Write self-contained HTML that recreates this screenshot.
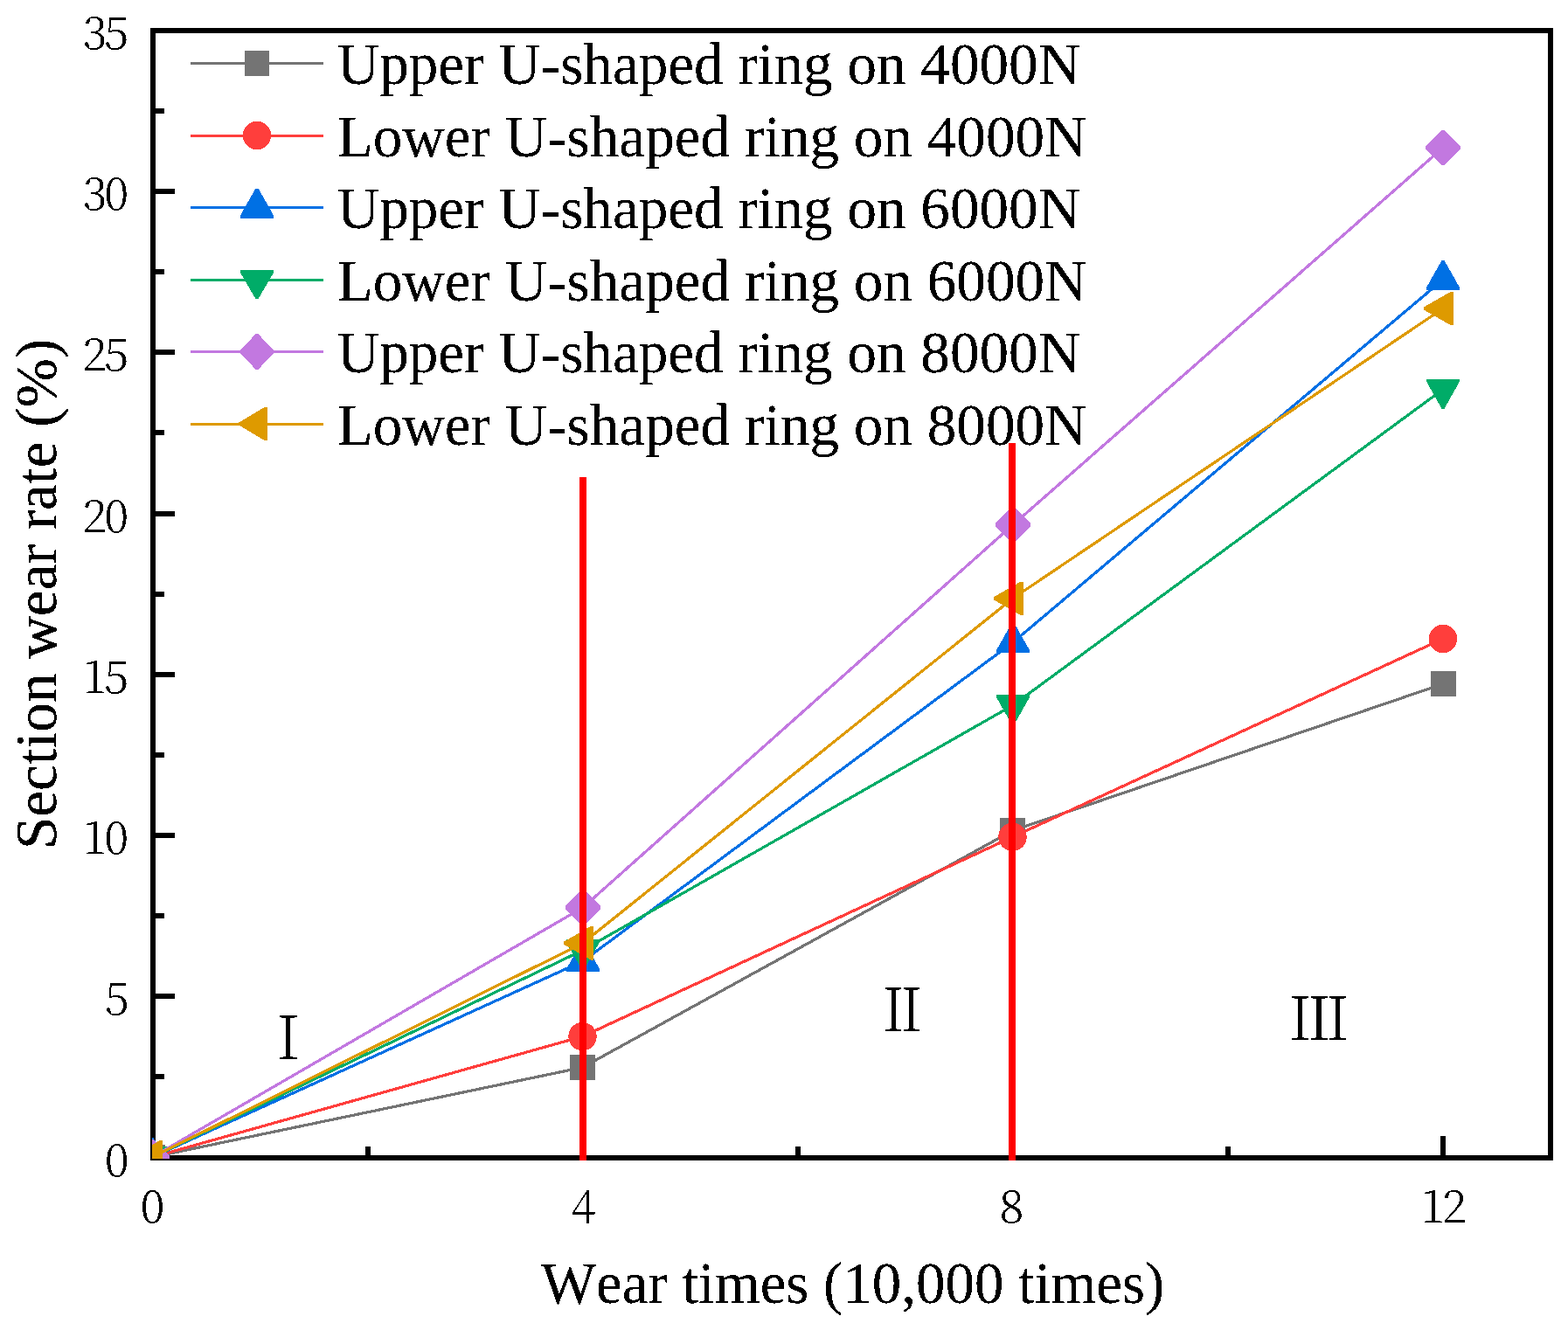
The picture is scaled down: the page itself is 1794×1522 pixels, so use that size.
<!DOCTYPE html>
<html lang="en"><head><meta charset="utf-8"><title>Section wear rate vs wear times</title>
<style>
html,body{margin:0;padding:0;background:#fff;}
body{width:1794px;height:1522px;overflow:hidden;}
svg{display:block;}
text{font-kerning:none;font-variant-ligatures:none;fill:#000;}
.t{font-family:"Liberation Serif","Noto Serif CJK SC",serif;font-size:66.9px;}
.k{font-family:"Noto Serif CJK SC","Liberation Serif",serif;font-size:51.5px;font-weight:300;letter-spacing:-3px;}
.r{font-family:"Noto Serif CJK SC","Liberation Serif",serif;font-size:66.67px;font-weight:300;}
</style></head><body>
<svg width="1794" height="1522" viewBox="0 0 1794 1522" role="img" aria-label="Section wear rate versus wear times">
<rect width="1794" height="1522" fill="#fff"/>
<defs><filter id="crisp" x="0" y="0" width="1794" height="1522" filterUnits="userSpaceOnUse" color-interpolation-filters="sRGB"><feComponentTransfer><feFuncA type="discrete" tableValues="0 0 1 1 1"/></feComponentTransfer></filter></defs>
<g id="chart" filter="url(#crisp)">
<g id="axes" fill="#000" shape-rendering="crispEdges">
<rect x="172" y="32" width="1605" height="6"/>
<rect x="172" y="1322" width="1605" height="6"/>
<rect x="172" y="32" width="6" height="1296"/>
<rect x="1771" y="32" width="6" height="1296"/>
<rect x="175" y="1229" width="13" height="6"/>
<rect x="175" y="1137" width="25" height="6"/>
<rect x="175" y="1045" width="13" height="6"/>
<rect x="175" y="953" width="25" height="6"/>
<rect x="175" y="861" width="13" height="6"/>
<rect x="175" y="769" width="25" height="6"/>
<rect x="175" y="677" width="13" height="6"/>
<rect x="175" y="585" width="25" height="6"/>
<rect x="175" y="492" width="13" height="6"/>
<rect x="175" y="400" width="25" height="6"/>
<rect x="175" y="308" width="13" height="6"/>
<rect x="175" y="216" width="25" height="6"/>
<rect x="175" y="124" width="13" height="6"/>
<rect x="418" y="1312" width="6" height="13"/>
<rect x="664" y="1300" width="6" height="25"/>
<rect x="910" y="1312" width="6" height="13"/>
<rect x="1156" y="1300" width="6" height="25"/>
<rect x="1402" y="1312" width="6" height="13"/>
<rect x="1648" y="1300" width="6" height="25"/>
</g>
<g id="ticklabels" class="k">
<text x="119.8" y="1346.2">0</text>
<text x="119.8" y="1161.2">5</text>
<text x="94.4" y="977.2">10</text>
<text x="94.4" y="793.2">15</text>
<text x="94.4" y="609.2">20</text>
<text x="94.4" y="424.2">25</text>
<text x="94.4" y="240.2">30</text>
<text x="94.4" y="56.2">35</text>
<text x="160.4" y="1399">0</text>
<text x="653.5" y="1399">4</text>
<text x="1143.5" y="1399">8</text>
<text x="1625.3" y="1399">12</text>
</g>
<text class="t" transform="translate(975.6 1490.6) scale(1 1.018)" text-anchor="middle">Wear times (10,000 times)</text>
<text class="t" transform="translate(64.3 680.0) rotate(-90) scale(1.005 1.018)" text-anchor="middle">Section wear rate (%)</text>
<defs><clipPath id="clip"><rect x="174" y="34" width="1602" height="1292"/></clipPath></defs>
<g id="series" clip-path="url(#clip)" shape-rendering="crispEdges">
<polyline points="174.2,1324.2 666.5,1221.5 1158.5,950.6 1651.5,782.5" fill="none" stroke="#747474" stroke-width="3.2" stroke-linejoin="round"/>
<rect x="159.7" y="1309.7" width="29" height="29" fill="#747474"/>
<rect x="652.0" y="1207.0" width="29" height="29" fill="#747474"/>
<rect x="1144.0" y="936.1" width="29" height="29" fill="#747474"/>
<rect x="1637.0" y="768.0" width="29" height="29" fill="#747474"/>
<polyline points="174.2,1324.2 666.5,1186.1 1158.5,957.8 1651.0,731.0" fill="none" stroke="#ff3e3c" stroke-width="3.2" stroke-linejoin="round"/>
<circle cx="174.2" cy="1324.2" r="16.2" fill="#ff3e3c"/>
<circle cx="666.5" cy="1186.1" r="16.2" fill="#ff3e3c"/>
<circle cx="1158.5" cy="957.8" r="16.2" fill="#ff3e3c"/>
<circle cx="1651.0" cy="731.0" r="16.2" fill="#ff3e3c"/>
<polyline points="174.2,1324.2 667.0,1099.9 1159.0,735.1 1651.0,320.0" fill="none" stroke="#0070e4" stroke-width="3.2" stroke-linejoin="round"/>
<polygon points="172.7,1302.2 175.7,1302.2 193.2,1333.2 193.2,1336.2 155.2,1336.2 155.2,1333.2" fill="#0070e4"/>
<polygon points="665.5,1077.9 668.5,1077.9 686.0,1108.9 686.0,1111.9 648.0,1111.9 648.0,1108.9" fill="#0070e4"/>
<polygon points="1157.5,713.1 1160.5,713.1 1178.0,744.1 1178.0,747.1 1140.0,747.1 1140.0,744.1" fill="#0070e4"/>
<polygon points="1649.5,298.0 1652.5,298.0 1670.0,329.0 1670.0,332.0 1632.0,332.0 1632.0,329.0" fill="#0070e4"/>
<polyline points="174.2,1324.2 667.0,1087.3 1159.0,807.0 1651.0,445.6" fill="none" stroke="#00ac68" stroke-width="3.2" stroke-linejoin="round"/>
<polygon points="172.7,1346.2 175.7,1346.2 193.2,1315.2 193.2,1312.2 155.2,1312.2 155.2,1315.2" fill="#00ac68"/>
<polygon points="665.5,1109.3 668.5,1109.3 686.0,1078.3 686.0,1075.3 648.0,1075.3 648.0,1078.3" fill="#00ac68"/>
<polygon points="1157.5,829.0 1160.5,829.0 1178.0,798.0 1178.0,795.0 1140.0,795.0 1140.0,798.0" fill="#00ac68"/>
<polygon points="1649.5,467.6 1652.5,467.6 1670.0,436.6 1670.0,433.6 1632.0,433.6 1632.0,436.6" fill="#00ac68"/>
<polyline points="174.2,1324.2 667.0,1038.5 1159.0,600.5 1651.0,169.0" fill="none" stroke="#c278e0" stroke-width="3.2" stroke-linejoin="round"/>
<polygon points="172.7,1304.0 175.7,1304.0 194.4,1322.7 194.4,1325.7 175.7,1344.4 172.7,1344.4 154.0,1325.7 154.0,1322.7" fill="#c278e0"/>
<polygon points="665.5,1018.3 668.5,1018.3 687.2,1037.0 687.2,1040.0 668.5,1058.7 665.5,1058.7 646.8,1040.0 646.8,1037.0" fill="#c278e0"/>
<polygon points="1157.5,580.3 1160.5,580.3 1179.2,599.0 1179.2,602.0 1160.5,620.7 1157.5,620.7 1138.8,602.0 1138.8,599.0" fill="#c278e0"/>
<polygon points="1649.5,148.8 1652.5,148.8 1671.2,167.5 1671.2,170.5 1652.5,189.2 1649.5,189.2 1630.8,170.5 1630.8,167.5" fill="#c278e0"/>
<polyline points="174.2,1324.2 667.0,1079.2 1158.8,684.8 1651.0,353.0" fill="none" stroke="#de9a00" stroke-width="3.2" stroke-linejoin="round"/>
<polygon points="152.2,1322.7 183.2,1304.9 186.2,1304.9 186.2,1343.5 183.2,1343.5 152.2,1325.7" fill="#de9a00"/>
<polygon points="645.0,1077.7 676.0,1059.9 679.0,1059.9 679.0,1098.5 676.0,1098.5 645.0,1080.7" fill="#de9a00"/>
<polygon points="1136.8,683.3 1167.8,665.5 1170.8,665.5 1170.8,704.1 1167.8,704.1 1136.8,686.3" fill="#de9a00"/>
<polygon points="1629.0,351.5 1660.0,333.7 1663.0,333.7 1663.0,372.3 1660.0,372.3 1629.0,354.5" fill="#de9a00"/>
</g>
<g id="legend" shape-rendering="crispEdges">
<rect x="218" y="71.0" width="152" height="3" fill="#747474" shape-rendering="crispEdges"/>
<rect x="280.0" y="58.0" width="28" height="29" fill="#747474"/>
<text class="t" transform="translate(385.7 96.2) scale(1.004 1.018)">Upper U-shaped ring on 4000N</text>
<rect x="218" y="153.5" width="152" height="3" fill="#ff3e3c" shape-rendering="crispEdges"/>
<circle cx="294.0" cy="155.0" r="16.2" fill="#ff3e3c"/>
<text class="t" transform="translate(385.7 178.7) scale(1.004 1.018)">Lower U-shaped ring on 4000N</text>
<rect x="218" y="236.0" width="152" height="3" fill="#0070e4" shape-rendering="crispEdges"/>
<polygon points="292.5,215.5 295.5,215.5 313.0,246.5 313.0,249.5 275.0,249.5 275.0,246.5" fill="#0070e4"/>
<text class="t" transform="translate(385.7 261.2) scale(1.004 1.018)">Upper U-shaped ring on 6000N</text>
<rect x="218" y="318.5" width="152" height="3" fill="#00ac68" shape-rendering="crispEdges"/>
<polygon points="292.5,342.0 295.5,342.0 313.0,312.2 313.0,309.2 275.0,309.2 275.0,312.2" fill="#00ac68"/>
<text class="t" transform="translate(385.7 343.7) scale(1.004 1.018)">Lower U-shaped ring on 6000N</text>
<rect x="218" y="401.0" width="152" height="3" fill="#c278e0" shape-rendering="crispEdges"/>
<polygon points="292.5,382.3 295.5,382.3 313.3,401.0 313.3,404.0 295.5,422.7 292.5,422.7 274.7,404.0 274.7,401.0" fill="#c278e0"/>
<text class="t" transform="translate(385.7 426.2) scale(1.004 1.018)">Upper U-shaped ring on 8000N</text>
<rect x="218" y="483.5" width="152" height="3" fill="#de9a00" shape-rendering="crispEdges"/>
<polygon points="273.3,483.5 303.0,465.7 306.0,465.7 306.0,504.3 303.0,504.3 273.3,486.5" fill="#de9a00"/>
<text class="t" transform="translate(385.7 508.7) scale(1.004 1.018)">Lower U-shaped ring on 8000N</text>
</g>
<g id="regions" class="r">
<text transform="translate(329.6 1212) scale(0.86 1)" text-anchor="middle">Ⅰ</text>
<text transform="translate(1032.5 1180) scale(0.96 1)" text-anchor="middle">Ⅱ</text>
<text transform="translate(1509 1190) scale(1.03 1)" text-anchor="middle">Ⅲ</text>
</g>
<g id="dividers" fill="#ff0000" shape-rendering="crispEdges">
<rect x="663" y="546" width="8" height="782"/>
<rect x="1154" y="507" width="8" height="821"/>
</g>
</g>
</svg></body></html>
